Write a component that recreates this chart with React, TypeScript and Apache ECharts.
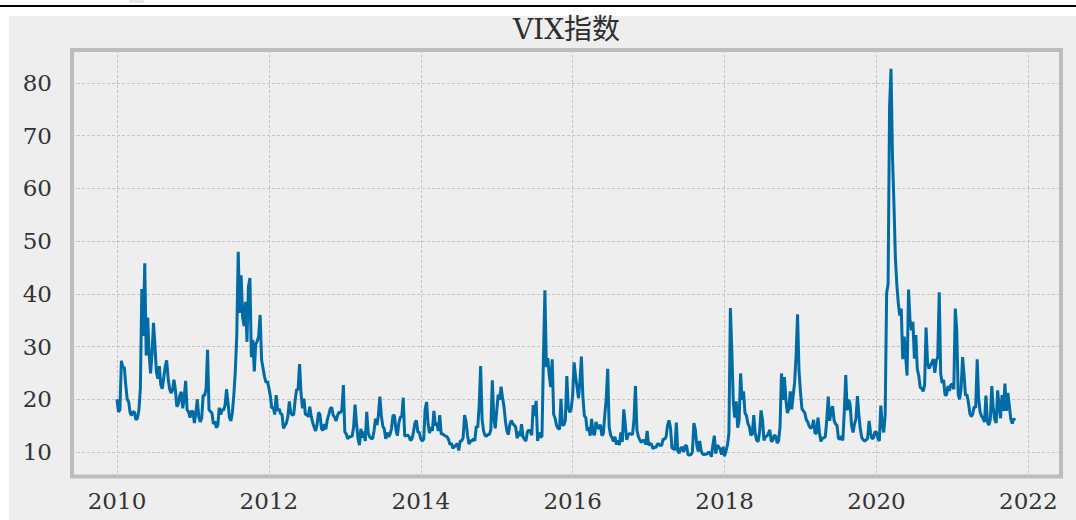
import React, { useEffect, useRef } from "react";
import * as echarts from "echarts";

// Weekly VIX readings, one array per year
const vix2010 = [20.0, 17.6, 18.0, 27.3, 26.0, 26.1, 22.7, 20.0, 19.5, 17.4, 16.9, 17.7, 17.5, 16.1, 16.4, 18.0, 22.0, 40.9, 32.0, 45.8, 28.3, 35.5, 28.6, 24.9, 28.7, 34.5, 30.1, 25.1, 23.9, 26.3, 22.7, 22.0, 24.1, 26.2, 27.4, 24.0, 22.0, 21.2, 21.7, 23.7, 21.8, 18.6, 19.1, 20.7, 21.4, 18.3, 20.2, 23.5, 18.0, 17.6, 16.5, 17.8];
const vix2011 = [17.6, 15.5, 17.5, 20.0, 16.7, 15.7, 16.4, 20.8, 20.7, 22.0, 29.4, 18.0, 17.7, 17.4, 15.3, 15.8, 14.6, 15.0, 18.4, 17.1, 18.1, 17.9, 18.9, 21.9, 19.3, 16.5, 15.9, 17.5, 20.8, 25.3, 32.0, 48.0, 36.4, 43.5, 35.6, 33.9, 38.5, 30.9, 41.3, 43.0, 28.0, 31.3, 25.3, 30.5, 31.0, 32.0, 36.0, 27.5, 25.9, 24.3, 23.2, 23.4];
const vix2012 = [22.2, 20.6, 18.3, 18.5, 17.1, 20.8, 17.8, 18.2, 17.3, 17.1, 14.5, 15.0, 15.5, 16.7, 19.6, 17.4, 17.0, 17.1, 19.9, 21.9, 21.8, 26.7, 21.2, 18.3, 20.1, 17.1, 17.1, 16.7, 18.6, 16.7, 15.6, 14.7, 14.0, 15.2, 17.5, 17.1, 14.4, 14.1, 15.3, 14.3, 16.1, 17.1, 18.2, 18.5, 17.0, 16.6, 15.9, 16.9, 17.6, 17.4, 18.0, 22.7];
const vix2013 = [13.8, 13.4, 12.5, 12.9, 12.9, 13.0, 14.7, 19.0, 15.4, 12.6, 11.3, 14.4, 12.7, 13.9, 12.1, 17.6, 13.6, 12.9, 12.6, 12.5, 14.0, 16.3, 15.1, 17.0, 20.5, 16.9, 14.9, 14.4, 12.5, 13.7, 12.9, 13.4, 14.5, 17.0, 16.9, 14.2, 13.1, 15.5, 16.6, 16.7, 20.3, 13.0, 13.1, 13.2, 12.9, 12.2, 12.5, 13.8, 15.5, 16.0, 13.8, 13.7];
const vix2014 = [12.5, 12.1, 12.4, 18.1, 19.5, 15.3, 13.6, 14.7, 14.0, 17.8, 15.0, 15.5, 14.0, 17.0, 13.4, 13.4, 13.2, 13.0, 12.9, 12.4, 11.4, 11.7, 10.7, 11.0, 11.3, 11.6, 10.3, 12.1, 12.1, 12.7, 17.0, 15.8, 13.2, 11.5, 12.1, 12.1, 12.5, 12.1, 14.9, 14.6, 18.8, 26.3, 16.1, 14.0, 13.1, 13.0, 13.3, 13.3, 14.3, 23.6, 16.5, 14.5];
const vix2015 = [17.8, 20.9, 19.9, 22.4, 20.3, 18.6, 15.8, 14.0, 13.3, 15.2, 16.0, 15.4, 15.1, 14.7, 12.6, 13.9, 13.0, 15.3, 12.9, 12.4, 12.1, 13.8, 14.2, 13.8, 13.2, 18.9, 16.8, 19.7, 12.1, 13.7, 12.8, 13.0, 28.0, 40.7, 26.1, 27.8, 24.4, 22.3, 27.6, 17.1, 16.4, 15.0, 14.5, 14.3, 20.1, 15.1, 15.1, 16.0, 24.4, 18.5, 17.5, 18.2];
const vix2016 = [20.7, 27.0, 24.3, 22.4, 20.2, 23.4, 28.1, 20.5, 16.9, 16.5, 14.0, 14.7, 13.1, 16.3, 13.6, 13.2, 15.7, 14.7, 14.4, 15.2, 13.1, 13.5, 17.0, 20.1, 25.8, 14.8, 13.2, 12.7, 12.0, 12.9, 11.4, 12.2, 11.3, 13.7, 11.9, 18.1, 15.3, 12.3, 13.3, 13.5, 13.4, 13.3, 16.2, 22.5, 14.2, 12.9, 12.3, 11.8, 12.2, 12.2, 11.4, 14.0];
const vix2017 = [11.3, 11.6, 11.5, 10.6, 11.0, 10.8, 11.5, 11.5, 11.2, 11.3, 12.5, 12.4, 12.9, 15.1, 16.0, 14.6, 10.8, 10.6, 10.4, 15.6, 10.1, 9.8, 10.7, 10.9, 10.0, 11.2, 11.2, 9.5, 9.4, 9.5, 10.0, 15.5, 14.3, 11.3, 10.1, 12.1, 10.2, 9.6, 9.5, 9.6, 9.6, 10.0, 9.8, 9.1, 11.3, 13.1, 9.7, 11.3, 11.0, 10.5, 9.5, 11.0];
const vix2018 = [9.2, 10.2, 11.3, 13.5, 37.3, 29.1, 19.5, 16.5, 19.6, 14.6, 16.0, 24.9, 19.9, 21.5, 17.4, 16.9, 15.4, 14.8, 13.2, 13.4, 17.0, 13.5, 12.2, 12.0, 13.8, 17.9, 16.1, 12.2, 12.9, 13.0, 13.5, 14.2, 12.0, 12.2, 13.2, 13.0, 11.7, 12.1, 14.8, 24.9, 19.9, 24.2, 20.0, 17.4, 18.1, 21.5, 18.1, 20.7, 23.2, 28.3, 36.1, 25.4];
const vix2019 = [21.4, 18.2, 17.8, 17.4, 16.1, 15.7, 14.9, 14.5, 14.8, 16.1, 13.5, 13.6, 16.5, 13.7, 12.0, 12.6, 12.7, 12.9, 16.0, 20.5, 15.9, 17.9, 18.7, 16.0, 15.3, 15.1, 12.6, 12.4, 13.0, 12.2, 17.6, 24.6, 17.9, 19.9, 19.0, 15.0, 13.7, 15.3, 16.3, 20.6, 17.0, 14.3, 12.7, 12.3, 12.1, 12.3, 12.6, 15.9, 13.6, 12.5, 12.7, 13.8];
const vix2020 = [13.8, 12.6, 12.1, 18.8, 15.2, 13.7, 17.1, 40.1, 41.9, 75.5, 82.7, 66.0, 57.1, 46.8, 41.7, 38.2, 35.9, 37.2, 27.6, 31.9, 28.2, 24.5, 40.8, 35.1, 33.1, 34.7, 27.7, 32.2, 25.7, 24.5, 22.2, 22.1, 21.5, 22.7, 33.6, 26.9, 25.8, 26.4, 27.0, 27.6, 25.0, 27.4, 28.0, 40.3, 24.9, 23.1, 23.7, 20.8, 20.8, 22.5, 21.6, 22.8];
const vix2021 = [22.8, 21.9, 37.2, 33.1, 20.9, 20.0, 22.1, 28.0, 24.7, 20.7, 20.9, 19.4, 17.3, 16.7, 17.3, 18.6, 18.4, 27.6, 20.2, 17.6, 16.8, 16.4, 15.7, 20.7, 15.8, 15.1, 16.2, 22.5, 18.2, 16.2, 15.5, 21.7, 18.6, 16.4, 20.8, 17.8, 23.0, 17.8, 21.2, 18.8, 16.3, 15.4, 16.3, 16.0];

const years = [2010, 2011, 2012, 2013, 2014, 2015, 2016, 2017, 2018, 2019, 2020, 2021];
const yearly = [vix2010, vix2011, vix2012, vix2013, vix2014, vix2015, vix2016, vix2017, vix2018, vix2019, vix2020, vix2021];

const xTicks = [2010, 2012, 2014, 2016, 2018, 2020, 2022];
const yTicks = [10, 20, 30, 40, 50, 60, 70, 80];
const titleText = "VIX指数";

export default function App() {
  const ref = useRef<HTMLDivElement>(null);
  useEffect(() => {
    if (!ref.current) return;
    const chart = echarts.init(ref.current, undefined, { renderer: "svg" });
    const data: number[][] = [];
    years.forEach((y, k) => {
      yearly[k].forEach((v, i) => data.push([y + i / 52, v]));
    });
    const font = "'DejaVu Serif', 'Noto Sans CJK SC', serif";
    chart.setOption({
      animation: false,
      backgroundColor: "transparent",
      graphic: [
        { type: "rect", z: -10, silent: true, shape: { x: 9, y: 16, width: 1067, height: 504 }, style: { fill: "#eeeeee" } },
        { type: "rect", z: -10, silent: true, shape: { x: 129, y: 0, width: 15, height: 3 }, style: { fill: "#e6e6e6" } },
        { type: "rect", z: -10, silent: true, shape: { x: 0, y: 5, width: 1076, height: 2 }, style: { fill: "#000000" } },
      ],
      title: {
        text: titleText,
        left: 566.5,
        textAlign: "center",
        top: 15,
        padding: 0,
        textStyle: { fontFamily: font, fontSize: 28, fontWeight: "normal", color: "#2e2e2e" },
      },
      grid: {
        left: 72,
        top: 50,
        width: 989,
        height: 426.5,
        show: true,
        backgroundColor: "#eeeeee",
        borderColor: "#bcbcbc",
        borderWidth: 4,
        outerBoundsMode: "none",
      },
      xAxis: {
        type: "value",
        min: 2009.4074,
        max: 2022.4306,
        axisLine: { show: false },
        axisTick: { show: false, customValues: xTicks },
        axisLabel: {
          customValues: xTicks,
          formatter: (v: number) => String(Math.round(v)),
          fontFamily: font,
          fontSize: 23,
          color: "#333333",
          margin: 13,
        },
        splitLine: { show: true, lineStyle: { color: "#c4c4c4", width: 1, type: [3, 2] } },
      },
      yAxis: {
        type: "value",
        min: 5.352,
        max: 86.26,
        axisLine: { show: false },
        axisTick: { show: false, customValues: yTicks },
        axisLabel: {
          customValues: yTicks,
          fontFamily: font,
          fontSize: 23,
          color: "#333333",
          margin: 20,
        },
        splitLine: { show: true, lineStyle: { color: "#c4c4c4", width: 1, type: [3, 2] } },
      },
      series: [
        {
          type: "line",
          data,
          showSymbol: false,
          symbol: "none",
          lineStyle: { color: "#006ba4", width: 3 },
          itemStyle: { color: "#006ba4" },
          clip: true,
        },
      ],
    });
    return () => chart.dispose();
  }, []);
  return <div ref={ref} style={{ position: "absolute", left: 0, top: 0, width: 1076, height: 520 }} />;
}
